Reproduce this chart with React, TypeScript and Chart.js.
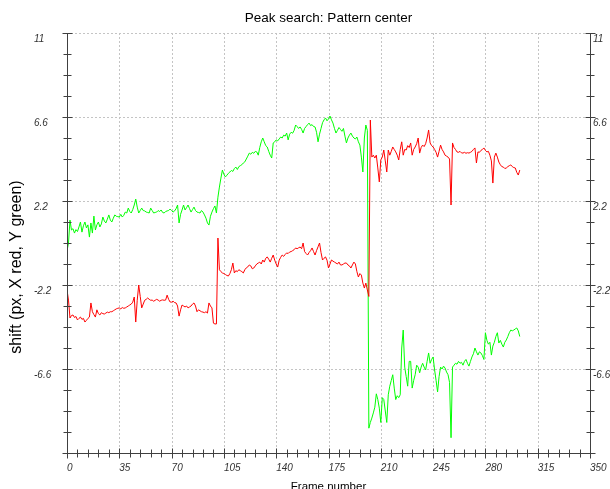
import React, { useEffect, useRef } from "react";
import { Chart, registerables } from "chart.js";

Chart.register(...registerables);

const chartTitle = "Peak search: Pattern center";
const xTitle = "Frame number";
const yTitle = "shift (px, X red, Y green)";

const xMin = 0;
const xMax = 350;
const xStep = 35;
const xMinorStep = 7;
const yMin = -11;
const yMax = 11;
const yTickValues = [11, 6.6, 2.2, -2.2, -6.6];
const yMinorStep = 1.1;

// Pattern-centre shift along X (red), one value per frame from frame 0
const shiftX = [
  -2.46, -2.99, -3.93, -3.8, -3.77, -3.9, -3.85, -4.03, -3.95, -3.88,
  -4.0, -3.95, -4.14, -4.05, -3.95, -3.88, -3.14, -3.6, -3.75, -3.88,
  -3.5, -3.7, -3.77, -3.65, -3.7, -3.72, -3.67, -3.62, -3.65, -3.6,
  -3.6, -3.55, -3.5, -3.45, -3.42, -3.4, -3.45, -3.38, -3.42, -3.4,
  -3.35, -3.3, -3.25, -3.2, -3.1, -2.83, -4.14, -3.0, -2.2, -2.8,
  -3.4, -3.2, -3.0, -2.95, -2.88, -2.95, -3.0, -2.99, -3.05, -3.0,
  -2.95, -2.99, -3.05, -3.0, -2.98, -3.0, -2.99, -2.73, -2.95, -3.09,
  -3.1, -3.05, -3.12, -3.14, -3.3, -3.83, -3.5, -3.25, -3.3, -3.35,
  -3.3, -3.4, -3.35, -3.3, -3.2, -3.14, -3.3, -3.6, -3.5, -3.55,
  -3.6, -3.62, -3.65, -3.6, -3.67, -3.14, -3.3, -3.4, -4.2, -4.24,
  -4.24, 0.26, -1.4, -1.5, -1.57, -1.6, -1.65, -1.7, -1.73, -1.6,
  -1.4, -1.05, -1.57, -1.45, -1.5, -1.4, -1.45, -1.5, -1.57, -1.4,
  -1.3, -1.25, -1.15, -1.2, -1.35, -1.31, -1.2, -1.1, -1.05, -1.0,
  -1.1, -0.89, -1.0, -0.8, -0.73, -0.85, -1.0, -0.8, -0.63, -0.9,
  -1.1, -1.26, -0.9, -0.75, -0.63, -0.7, -0.6, -0.52, -0.55, -0.47,
  -0.45, -0.4, -0.35, -0.26, -0.3, -0.25, -0.21, -0.3, 0.0, -0.45,
  -0.55, -0.63, -0.5, -0.4, -0.26, -0.45, -0.63, -0.4, -0.2, 0.0,
  -0.5, -0.89, -0.8, -0.73, -0.9, -1.31, -1.1, -0.89, -0.95, -1.0,
  -1.05, -1.1, -1.0, -1.15, -1.15, -1.1, -1.05, -1.05, -1.15, -1.2,
  -1.31, -1.15, -1.0, -1.1, -1.5, -1.78, -1.6, -1.68, -2.1, -2.36,
  -2.1, -2.46, -2.8, 6.44, 4.5, 4.6, 4.45, 4.6, 3.93, 3.2,
  4.35, 4.5, 4.87, 4.3, 3.72, 4.87, 4.6, 4.8, 5.03, 4.9,
  4.77, 4.6, 4.35, 4.9, 5.3, 4.6, 4.9, 4.87, 5.1, 5.0,
  5.24, 4.6, 4.9, 5.03, 5.2, 5.5, 4.71, 5.0, 5.13, 5.05,
  5.2, 5.5, 5.92, 5.24, 5.1, 5.03, 4.9, 4.75, 4.5, 4.8,
  5.13, 4.9, 4.77, 4.6, 4.55, 4.5, 4.4, 1.99, 5.24, 5.0,
  4.9, 4.77, 4.75, 4.8, 4.72, 4.71, 4.75, 4.7, 4.73, 4.71,
  4.75, 4.8, 4.9, 4.98, 4.19, 4.77, 4.75, 4.85, 4.9, 4.98,
  4.85, 4.77, 4.8, 4.6, 4.3, 3.14, 4.5, 4.71, 4.5, 4.24,
  4.1, 4.0, 3.98, 3.9, 3.93, 4.0, 4.05, 4.09, 4.0, 3.95,
  3.93, 3.7, 3.56, 3.82,
];

// Pattern-centre shift along Y (green), one value per frame from frame 0
const shiftY = [
  -0.42, 0.0, 1.2, 0.68, 0.75, 0.52, 0.7, 0.6, 0.84, 1.1,
  0.57, 0.9, 1.1, 0.79, 0.95, 0.31, 1.05, 0.52, 1.41, 0.68,
  0.95, 1.1, 0.84, 1.0, 1.36, 1.15, 1.05, 1.25, 1.47, 1.2,
  1.1, 1.3, 1.47, 1.4, 1.38, 1.36, 1.5, 1.36, 1.45, 1.62,
  1.57, 1.83, 1.65, 1.57, 1.75, 1.99, 2.3, 1.88, 1.57, 1.7,
  1.83, 1.7, 1.68, 1.62, 1.6, 1.57, 1.83, 1.7, 1.57, 1.6,
  1.62, 1.7, 1.65, 1.73, 1.6, 1.57, 1.65, 1.68, 1.7, 1.78,
  1.7, 1.62, 1.68, 1.8, 1.99, 1.05, 1.5, 1.73, 1.99, 1.73,
  1.85, 1.99, 1.8, 1.62, 1.75, 1.88, 1.7, 1.62, 1.6, 1.57,
  1.7, 1.62, 1.47, 1.3, 1.05, 0.94, 1.4, 1.62, 1.8, 1.94,
  1.57, 2.4, 2.93, 3.4, 3.82, 3.6, 3.46, 3.55, 3.65, 3.72,
  3.8, 3.75, 3.9, 3.98, 3.85, 4.0, 4.05, 4.1, 4.19, 4.25,
  4.4, 4.55, 4.71, 4.65, 4.75, 4.7, 4.8, 4.77, 4.6, 5.0,
  5.3, 5.5, 5.3, 5.1, 5.03, 4.8, 4.6, 4.45, 5.24, 5.3,
  5.4, 5.35, 5.45, 5.55, 5.5, 5.65, 5.6, 5.76, 5.4, 5.7,
  5.8, 5.75, 5.9, 6.18, 6.1, 6.0, 6.08, 5.95, 5.76, 6.0,
  6.1, 6.2, 6.28, 6.15, 6.2, 6.1, 6.08, 5.8, 5.3, 5.7,
  6.0, 6.3, 6.45, 6.55, 6.4, 6.5, 6.65, 6.45, 6.28, 6.0,
  5.76, 5.9, 6.05, 5.95, 5.85, 6.0, 5.6, 5.24, 5.5, 5.65,
  5.76, 5.6, 5.5, 5.45, 5.55, 5.3, 5.13, 4.5, 3.72, 5.5,
  6.18, 5.9, -9.7, -9.4, -9.17, -8.9, -8.6, -7.9, -8.2, -8.65,
  -9.4, -8.1, -8.2, -8.8, -9.4, -7.95, -7.5, -7.2, -6.9, -7.6,
  -8.2, -8.0, -8.1, -7.95, -5.5, -4.56, -6.5, -7.0, -7.5, -6.2,
  -6.2, -7.6, -7.2, -6.9, -6.4, -6.5, -6.8, -6.5, -6.3, -6.5,
  -6.65, -6.2, -5.76, -6.3, -6.1, -5.97, -6.65, -7.2, -7.8, -7.0,
  -6.5, -6.6, -6.45, -6.55, -6.76, -6.9, -7.3, -10.2, -6.5, -6.4,
  -6.3, -6.35, -6.2, -6.3, -6.25, -6.4, -6.2, -6.1, -6.3, -6.45,
  -6.2, -5.97, -5.8, -5.5, -5.7, -5.87, -5.7, -5.76, -5.9, -6.1,
  -4.7, -5.1, -5.3, -5.2, -5.87, -5.4, -5.2, -4.9, -4.7, -5.24,
  -5.1, -5.3, -5.45, -5.2, -5.08, -4.9, -4.7, -4.56, -4.6, -4.56,
  -4.5, -4.45, -4.6, -4.9,
];

const FONT = '"Liberation Sans", Arial, sans-serif';
const AXIS_COLOR = "#404040";
const GRID_COLOR = "#c4c4c4";

// Dashed grid, crossing tick marks, axis lines and axis titles
const frameDecor = {
  id: "frameDecor",
  beforeDatasetsDraw(chart: any) {
    const { ctx, chartArea: a, scales } = chart;
    const xs = scales.x;
    const ys = scales.y;
    ctx.save();
    ctx.strokeStyle = GRID_COLOR;
    ctx.lineWidth = 1;
    ctx.setLineDash([2, 2]);
    ctx.beginPath();
    for (let v = xMin + xStep; v < xMax; v += xStep) {
      const px = Math.round(xs.getPixelForValue(v)) + 0.5;
      ctx.moveTo(px, a.top);
      ctx.lineTo(px, a.bottom);
    }
    for (const v of yTickValues) {
      const py = Math.round(ys.getPixelForValue(v)) + 0.5;
      ctx.moveTo(a.left, py);
      ctx.lineTo(a.right, py);
    }
    ctx.stroke();
    ctx.restore();
  },
  afterDraw(chart: any) {
    const { ctx, chartArea: a, scales } = chart;
    const xs = scales.x;
    const ys = scales.y;
    const left = Math.round(a.left) + 0.5;
    const right = Math.round(a.right) + 0.5;
    const top = Math.round(a.top) + 0.5;
    const bottom = Math.round(a.bottom) + 0.5;
    ctx.save();
    ctx.strokeStyle = AXIS_COLOR;
    ctx.lineWidth = 1;
    ctx.beginPath();
    ctx.moveTo(left, top);
    ctx.lineTo(left, bottom);
    ctx.lineTo(right, bottom);
    ctx.moveTo(right, top);
    ctx.lineTo(right, bottom);

    const ySteps = Math.round((yMax - yMin) / yMinorStep);
    for (let k = 0; k <= ySteps; k++) {
      const py = Math.round(ys.getPixelForValue(yMin + k * yMinorStep)) + 0.5;
      const len = k % 4 === 0 ? 5 : 4;
      ctx.moveTo(left - len, py);
      ctx.lineTo(left + len, py);
      ctx.moveTo(right - len, py);
      ctx.lineTo(right + len, py);
    }
    const xSteps = Math.round((xMax - xMin) / xMinorStep);
    for (let k = 0; k <= xSteps; k++) {
      const px = Math.round(xs.getPixelForValue(xMin + k * xMinorStep)) + 0.5;
      const len = k % 5 === 0 ? 5 : 4;
      ctx.moveTo(px, bottom - len);
      ctx.lineTo(px, bottom + len);
    }
    ctx.stroke();

    ctx.fillStyle = "#000";
    ctx.textAlign = "center";
    ctx.textBaseline = "alphabetic";
    ctx.font = `11.5px ${FONT}`;
    ctx.fillText(xTitle, (a.left + a.right) / 2, 490);

    ctx.font = `16px ${FONT}`;
    ctx.translate(21, 267);
    ctx.rotate(-Math.PI / 2);
    ctx.fillText(yTitle, 0, 0);
    ctx.restore();
  },
};

const yTicksSorted = [...yTickValues].sort((p, q) => p - q);

export default function App() {
  const canvasRef = useRef<HTMLCanvasElement | null>(null);

  useEffect(() => {
    const canvas = canvasRef.current;
    if (!canvas) return;
    const tickFont = { family: FONT, size: 10, style: "italic" as const };
    const yScale = (position: "left" | "right") => ({
      type: "linear" as const,
      position,
      min: yMin,
      max: yMax,
      grid: { display: false, drawTicks: false },
      border: { display: false },
      afterBuildTicks: (s: any) => {
        s.ticks = yTicksSorted.map((v) => ({ value: v }));
      },
      afterFit: (s: any) => {
        s.width = position === "left" ? 33 : 20;
        s.paddingTop = 0;
        s.paddingBottom = 0;
      },
      ticks: {
        font: tickFont,
        color: "#333",
        padding: 3,
        labelOffset: 6.5,
        crossAlign: position === "left" ? ("far" as const) : ("near" as const),
        callback: (v: any) => String(v),
      },
    });

    const chart = new Chart(canvas, {
      type: "line",
      data: {
        datasets: [
          {
            label: "X",
            data: shiftX.map((v, i) => ({ x: i, y: v })),
            borderColor: "#ff0000",
            borderWidth: 1,
            pointRadius: 0,
            tension: 0,
            fill: false,
            yAxisID: "y",
          },
          {
            label: "Y",
            data: shiftY.map((v, i) => ({ x: i, y: v })),
            borderColor: "#00ff00",
            borderWidth: 1,
            pointRadius: 0,
            tension: 0,
            fill: false,
            yAxisID: "y",
          },
        ],
      },
      options: {
        animation: false,
        responsive: false,
        devicePixelRatio: 1,
        layout: { padding: { left: 34, right: 0, top: 0, bottom: 0 } },
        scales: {
          x: {
            type: "linear",
            position: "bottom",
            min: xMin,
            max: xMax,
            grid: { display: false, drawTicks: false },
            border: { display: false },
            afterFit: (s: any) => {
              s.height = 36;
              s.paddingLeft = 0;
              s.paddingRight = 0;
            },
            ticks: {
              stepSize: xStep,
              autoSkip: false,
              maxRotation: 0,
              align: "start",
              padding: 9,
              font: tickFont,
              color: "#333",
              callback: (v: any) => String(v),
            },
          },
          y: yScale("left"),
          y2: yScale("right"),
        },
        plugins: {
          legend: { display: false },
          tooltip: { enabled: false },
          title: {
            display: true,
            text: chartTitle,
            fullSize: false,
            color: "#000",
            font: { family: FONT, size: 13.5, weight: "normal" },
            padding: { top: 10, bottom: 6.8 },
          },
        },
      },
      plugins: [frameDecor],
    });
    return () => chart.destroy();
  }, []);

  return (
    <div style={{ position: "fixed", left: 0, top: 0, width: 610, height: 489, background: "#fff" }}>
      <canvas ref={canvasRef} width={610} height={489} style={{ display: "block" }} />
    </div>
  );
}
